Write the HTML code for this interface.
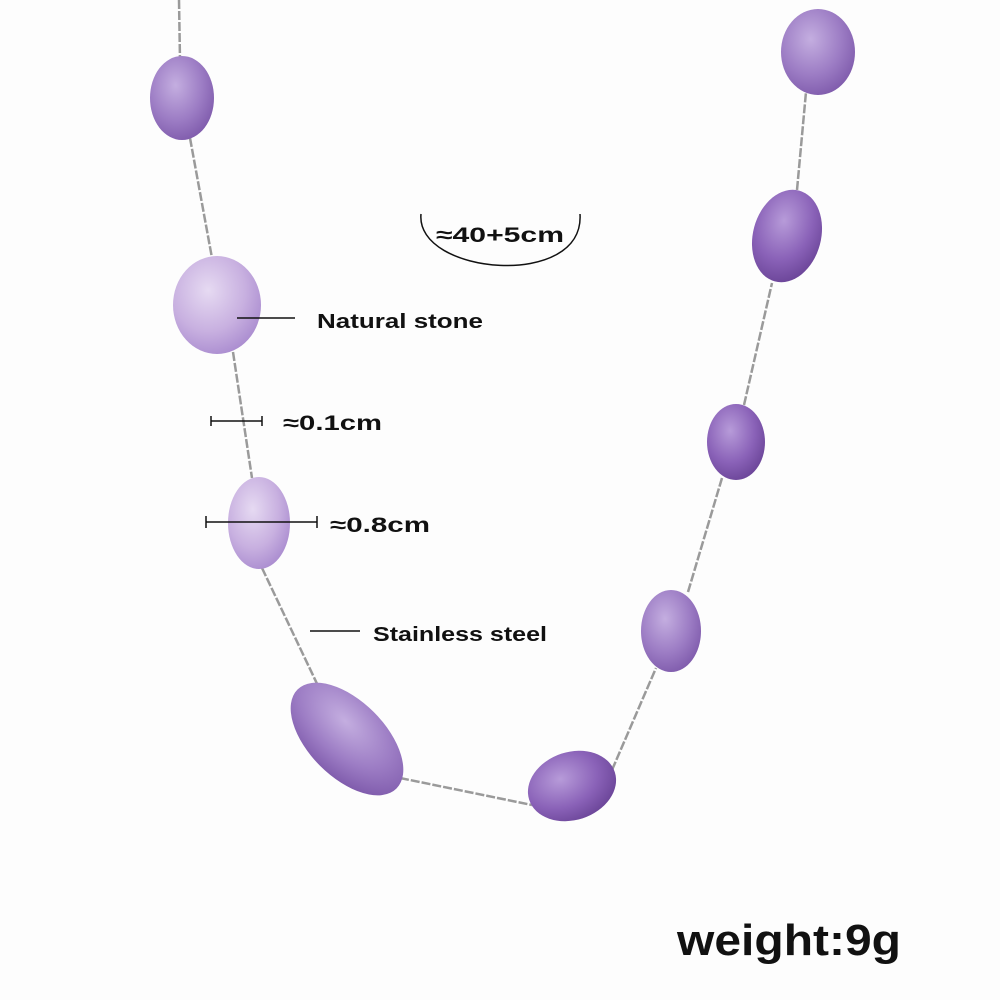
<!DOCTYPE html>
<html><head><meta charset="utf-8"><style>
html,body{margin:0;padding:0;background:#fff;}
svg{display:block;}
text{font-family:"Liberation Sans","DejaVu Sans",sans-serif;fill:#111;font-weight:bold;}
</style></head><body>
<svg width="1000" height="1000" viewBox="0 0 1000 1000">
<defs>
<radialGradient id="g1" cx="40%" cy="35%" r="70%"><stop offset="0" stop-color="#c4aee0"/><stop offset="0.6" stop-color="#9c7cc4"/><stop offset="1" stop-color="#7e5aab"/></radialGradient>
<radialGradient id="g2" cx="40%" cy="35%" r="70%"><stop offset="0" stop-color="#e6daf2"/><stop offset="0.6" stop-color="#c8b0e0"/><stop offset="1" stop-color="#a98bcf"/></radialGradient>
<radialGradient id="g3" cx="40%" cy="35%" r="70%"><stop offset="0" stop-color="#b79bd9"/><stop offset="0.6" stop-color="#8a62b8"/><stop offset="1" stop-color="#6a4497"/></radialGradient>
</defs>
<rect width="1000" height="1000" fill="#fdfdfd"/>
<g stroke="#9a9a9a" stroke-width="2.5" fill="none" stroke-dasharray="9 2">
<polyline points="179,0 180,60"/>
<polyline points="190,138 212,258"/>
<polyline points="233,352 252,478"/>
<polyline points="262,568 320,690"/>
<polyline points="400,778 532,805"/>
<polyline points="612,770 656,668"/>
<polyline points="688,592 722,478"/>
<polyline points="744,405 772,283"/>
<polyline points="797,190 806,92"/>
</g>
<ellipse cx="182" cy="98" rx="32" ry="42" fill="url(#g1)"/>
<ellipse cx="217" cy="305" rx="44" ry="49" fill="url(#g2)"/>
<ellipse cx="259" cy="523" rx="31" ry="46" fill="url(#g2)"/>
<ellipse cx="347" cy="739" rx="70" ry="38" transform="rotate(45 347 739)" fill="url(#g1)"/>
<ellipse cx="572" cy="786" rx="45" ry="34" transform="rotate(-18 572 786)" fill="url(#g3)"/>
<ellipse cx="671" cy="631" rx="30" ry="41" fill="url(#g1)"/>
<ellipse cx="736" cy="442" rx="29" ry="38" fill="url(#g3)"/>
<ellipse cx="787" cy="236" rx="34" ry="47" transform="rotate(15 787 236)" fill="url(#g3)"/>
<ellipse cx="818" cy="52" rx="37" ry="43" fill="url(#g1)"/>
<g stroke="#111" stroke-width="1.5" fill="none">
<path d="M421,214 C415,275 585,290 580,214"/>
<line x1="237" y1="318" x2="295" y2="318"/>
<line x1="211" y1="421" x2="262" y2="421"/><line x1="211" y1="416" x2="211" y2="426"/><line x1="262" y1="416" x2="262" y2="426"/>
<line x1="206" y1="522" x2="317" y2="522"/><line x1="206" y1="516" x2="206" y2="528"/><line x1="317" y1="516" x2="317" y2="528"/>
<line x1="310" y1="631" x2="360" y2="631"/>
</g>
<text x="436" y="242" font-size="21" textLength="128" lengthAdjust="spacingAndGlyphs">≈40+5cm</text>
<text x="317" y="328" font-size="20" textLength="166" lengthAdjust="spacingAndGlyphs">Natural stone</text>
<text x="283" y="430" font-size="21" textLength="99" lengthAdjust="spacingAndGlyphs">≈0.1cm</text>
<text x="330" y="532" font-size="21" textLength="100" lengthAdjust="spacingAndGlyphs">≈0.8cm</text>
<text x="373" y="641" font-size="20" textLength="174" lengthAdjust="spacingAndGlyphs">Stainless steel</text>
<text x="677" y="955" font-size="44" textLength="224" lengthAdjust="spacingAndGlyphs">weight:9g</text>
</svg>
</body></html>
